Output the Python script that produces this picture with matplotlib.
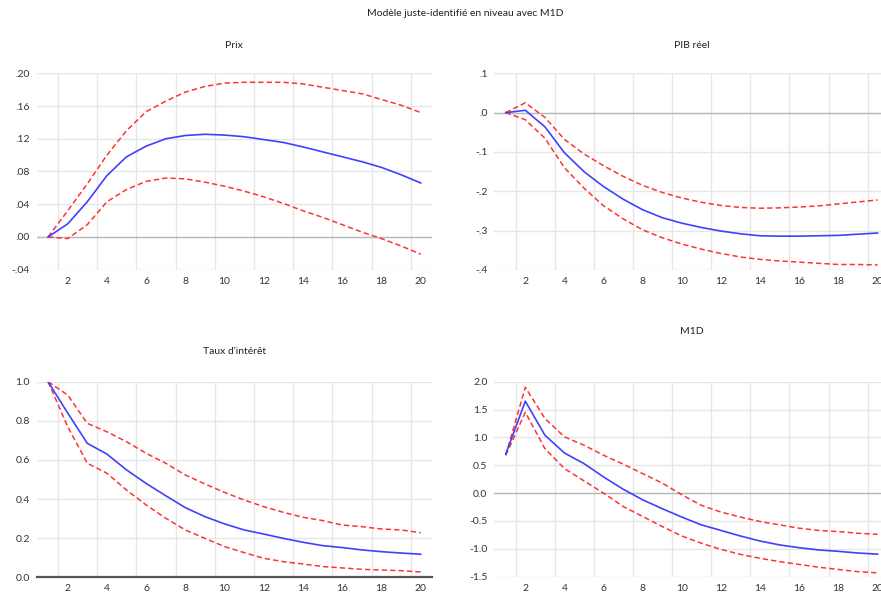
import numpy as np
import matplotlib.pyplot as plt
from matplotlib.ticker import FixedLocator

plt.rcParams['font.family'] = ['Lato', 'DejaVu Sans']

# horizons 1..20
periods = np.arange(1, 21)

# Prix
prix = [0.0, 0.016, 0.043, 0.075, 0.098, 0.111, 0.120, 0.124, 0.1255, 0.1245,
        0.1225, 0.119, 0.1155, 0.110, 0.104, 0.098, 0.092, 0.085, 0.076, 0.066]
prix_hi = [0.0, 0.032, 0.065, 0.100, 0.130, 0.153, 0.166, 0.177, 0.184, 0.188,
           0.189, 0.189, 0.189, 0.187, 0.183, 0.179, 0.175, 0.168, 0.161, 0.152]
prix_lo = [0.0, -0.002, 0.015, 0.043, 0.058, 0.068, 0.072, 0.071, 0.067, 0.062,
           0.056, 0.049, 0.041, 0.032, 0.024, 0.015, 0.006, -0.002, -0.011, -0.021]

# PIB reel
pib = [0.0, 0.006, -0.036, -0.102, -0.150, -0.188, -0.220, -0.247, -0.267, -0.281,
       -0.292, -0.301, -0.308, -0.313, -0.314, -0.314, -0.313, -0.312, -0.309, -0.306]
pib_hi = [0.0, 0.025, -0.012, -0.068, -0.105, -0.135, -0.162, -0.185, -0.203, -0.217,
          -0.228, -0.236, -0.241, -0.243, -0.242, -0.240, -0.237, -0.232, -0.227, -0.222]
pib_lo = [0.0, -0.018, -0.065, -0.140, -0.192, -0.237, -0.270, -0.298, -0.318, -0.334,
          -0.347, -0.358, -0.367, -0.373, -0.377, -0.380, -0.383, -0.386, -0.386, -0.387]

# Taux d'interet
taux = [1.0, 0.84, 0.685, 0.630, 0.549, 0.480, 0.417, 0.356, 0.310, 0.273,
        0.242, 0.221, 0.199, 0.179, 0.162, 0.152, 0.140, 0.131, 0.124, 0.118]
taux_hi = [1.0, 0.932, 0.787, 0.744, 0.693, 0.634, 0.583, 0.523, 0.477, 0.434,
           0.395, 0.361, 0.332, 0.307, 0.290, 0.267, 0.259, 0.247, 0.242, 0.228]
taux_lo = [1.0, 0.77, 0.583, 0.532, 0.446, 0.370, 0.302, 0.242, 0.199, 0.157,
           0.126, 0.097, 0.080, 0.068, 0.055, 0.048, 0.041, 0.037, 0.034, 0.027]

# M1D
m1d = [0.70, 1.65, 1.04, 0.72, 0.53, 0.29, 0.07, -0.12, -0.28, -0.43,
       -0.57, -0.67, -0.77, -0.86, -0.93, -0.98, -1.02, -1.045, -1.075, -1.095]
m1d_hi = [0.68, 1.90, 1.34, 1.01, 0.86, 0.68, 0.52, 0.35, 0.18, -0.03,
          -0.22, -0.34, -0.43, -0.51, -0.57, -0.63, -0.67, -0.69, -0.72, -0.74]
m1d_lo = [0.68, 1.45, 0.80, 0.44, 0.22, 0.00, -0.24, -0.42, -0.60, -0.77,
          -0.90, -1.01, -1.10, -1.17, -1.23, -1.28, -1.33, -1.37, -1.41, -1.43]

W, H = 881, 598
fig = plt.figure(figsize=(W / 100, H / 100), dpi=100)


def px_axes(left, top, right, bottom):
    # axes placed from pixel coords of the reference
    return fig.add_axes([left / W, 1 - bottom / H, (right - left) / W, (bottom - top) / H])


panels = [
    ("Prix", prix, prix_hi, prix_lo, (36.7, 73.3, 431.7, 269.7), (-0.04, 0.20),
     np.arange(-0.04, 0.201, 0.04), lambda v: f"{v:.2f}".replace("0.", "."), 45),
    ("PIB réel", pib, pib_hi, pib_lo, (494.4, 73.3, 888.5, 270.0), (-0.4, 0.1),
     np.arange(-0.4, 0.101, 0.1), lambda v: f"{v:.1f}".replace("0.", "."), 45),
    ("Taux d'intérêt", taux, taux_hi, taux_lo, (36.7, 381.7, 431.7, 577.3), (0.0, 1.0),
     np.arange(0.0, 1.01, 0.2), lambda v: f"{v:.1f}", 352),
    ("M1D", m1d, m1d_hi, m1d_lo, (494.4, 381.7, 888.5, 576.7), (-1.5, 2.0),
     np.arange(-1.5, 2.01, 0.5), lambda v: f"{v:.1f}", 332),
]

for name, mid, hi, lo, box, ylim, yticks, fmt, title_y in panels:
    ax = px_axes(*box)
    ax.set_xlim(0.42, 20.56)
    ax.set_ylim(*ylim)
    for s in ax.spines.values():
        s.set_visible(False)
    ax.set_xticks(np.arange(2, 21, 2))
    ax.xaxis.set_minor_locator(FixedLocator(np.arange(1.5, 20, 2)))
    ax.set_yticks(yticks)
    ax.set_yticklabels([fmt(round(v, 3)) if abs(v) > 1e-9 else fmt(0.0) for v in yticks])
    ax.tick_params(axis='both', which='both', length=0, labelsize=7.5,
                   labelcolor='#333333')
    ax.tick_params(axis='y', pad=5)
    ax.tick_params(axis='x', pad=5)
    ax.grid(True, axis='y', which='major', color='#e6e6e6', lw=1.0)
    ax.grid(True, axis='x', which='minor', color='#e6e6e6', lw=1.0)
    ax.set_axisbelow(True)
    if ylim[0] == 0.0:
        ax.axhline(0, color='#555555', lw=1.6, clip_on=False, zorder=1)
    else:
        ax.axhline(0, color='#b8b8b8', lw=1.0, zorder=1)

    ax.plot(periods, hi, color='#ff3333', lw=1.1, dashes=(3.5, 2), zorder=3)
    ax.plot(periods, lo, color='#ff3333', lw=1.1, dashes=(3.5, 2), zorder=3)
    ax.plot(periods, mid, color='#4040ff', lw=1.2, zorder=4)

    cx = (box[0] + box[2]) / 2
    fig.text(cx / W, 1 - title_y / H, name, ha='center', va='center',
             fontsize=7.5, color='#222222')

fig.text(465 / W, 1 - 13 / H, "Modèle juste-identifié en niveau avec M1D",
         ha='center', va='center', fontsize=7.5, color='#222222')

fig.savefig("out.png", dpi=100)
